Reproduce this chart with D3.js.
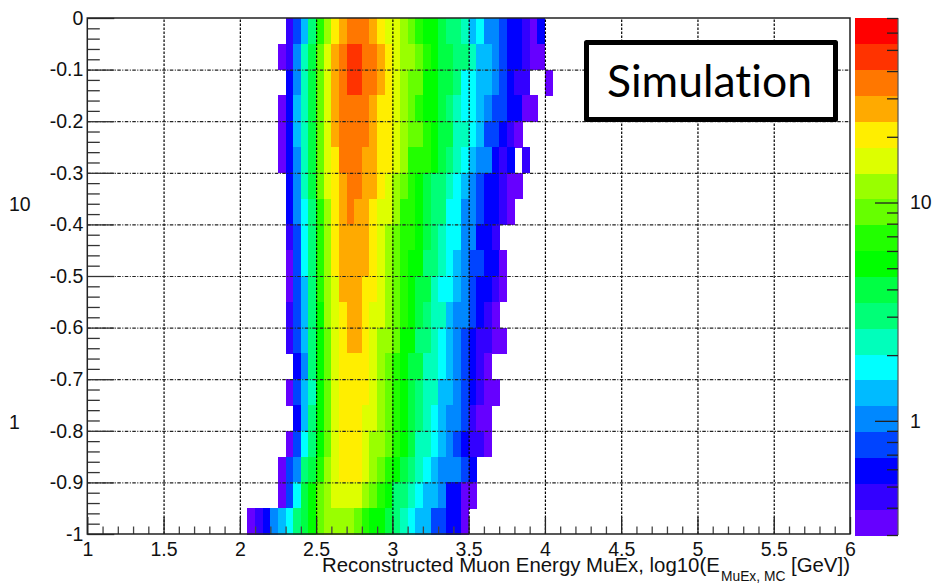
<!DOCTYPE html>
<html>
<head>
<meta charset="utf-8">
<script src="https://cdn.jsdelivr.net/npm/d3@7"></script>
<style>
  body { margin: 0; background: #fff; }
  text { font-family: "Liberation Sans", Arial, sans-serif; fill: #111; }
</style>
</head>
<body>
<svg id="chart" width="932" height="584"></svg>
<script>
// first x bin of each row (log10 E), rows run from y=0 down to y=-1
var rowStart = [2.3,2.25,2.3,2.25,2.25,2.25,2.3,2.3,2.3,2.3,2.3,2.3,2.3,2.35,2.3,2.35,2.3,2.25,2.25,2.05];

// bin contents per row, 0 = empty bin
var rowValues = [
  [.45,.78,1.35,3.1,7,12,21,27,36,36,36,27,21,16,16,12,9.1,7,5.3,5.3,4,3.1,3.1,2.3,1.35,1.78,1.03,1.03,.78,.6,.6,.45,.35,.6],
  [.35,.45,1.03,2.3,4,9.1,16,27,36,47,47,36,36,27,21,16,12,12,9.1,7,5.3,4,4,3.1,3.1,2.3,1.35,1.35,1.03,.78,.6,.6,.45,.35,.35],
  [.6,1.03,2.3,4,9.1,16,27,36,47,47,36,36,27,21,16,12,9.1,9.1,5.3,5.3,4,4,3.1,1.78,1.78,1.35,1.35,1.03,.78,.6,.45,.45,0,0,.35],
  [.35,.6,1.35,2.3,4,9.1,16,27,36,36,36,36,27,21,21,16,12,9.1,7,5.3,5.3,4,3.1,2.3,1.78,1.78,1.35,1.03,.78,.78,.6,.6,.35,.35],
  [.35,.6,1.35,2.3,4,9.1,16,27,36,36,36,36,27,21,21,16,12,9.1,9.1,7,5.3,4,4,2.3,2.3,1.78,1.35,.78,.78,.6,.45,.35],
  [.35,.6,1.03,2.3,4,9.1,16,21,36,36,36,27,27,21,21,16,12,7,7,7,5.3,4,3.1,2.3,1.78,1.35,1.03,1.03,.6,.45,.6,0,.45],
  [.6,1.03,2.3,4,9.1,16,21,27,36,36,27,27,21,16,12,9.1,7,5.3,4,3.1,3.1,2.3,1.78,1.35,1.03,.78,.6,.6,.45,.35,.35],
  [.6,1.03,1.78,3.1,7,12,21,27,36,27,27,21,16,16,12,7,7,5.3,4,3.1,3.1,1.78,1.78,1.03,1.03,.78,.6,.6,.45,.35],
  [.45,.78,1.78,3.1,7,12,21,27,27,27,27,21,16,12,9.1,7,7,5.3,4,3.1,2.3,1.78,1.78,1.03,1.03,.6,.6,.45],
  [.35,.78,1.78,3.1,7,12,21,27,27,27,27,21,16,12,9.1,7,5.3,5.3,3.1,3.1,2.3,1.78,1.35,1.03,.78,.78,.6,.6,.35],
  [.35,.78,1.35,3.1,7,12,16,27,27,27,21,21,16,12,9.1,7,5.3,4,4,2.3,1.78,1.78,1.35,1.03,.78,.6,.6,.45,.35],
  [.45,.78,1.35,3.1,5.3,12,16,21,27,27,21,16,16,12,9.1,7,5.3,4,3.1,2.3,2.3,1.35,1.03,1.03,.78,.6,.45,.35],
  [.45,.78,1.35,3.1,5.3,9.1,16,21,27,27,21,16,12,12,9.1,5.3,5.3,3.1,3.1,2.3,1.78,1.35,1.03,.78,.6,.45,.45,.35,.35],
  [.6,1.03,3.1,5.3,9.1,16,21,21,21,21,16,12,9.1,7,5.3,4,4,2.3,2.3,1.78,1.35,1.03,.78,.6,.45,.35],
  [.35,.78,1.35,2.3,5.3,9.1,16,21,21,21,21,16,12,9.1,7,5.3,4,3.1,2.3,2.3,1.35,1.35,1.03,.78,.6,.45,.35,.35],
  [.6,1.35,3.1,5.3,9.1,16,21,21,21,16,16,12,9.1,7,5.3,4,3.1,2.3,1.78,1.35,1.03,1.03,.78,.45,.35,.35],
  [.35,.78,1.78,3.1,5.3,9.1,16,21,21,21,16,12,12,9.1,7,5.3,4,2.3,2.3,1.78,1.35,1.03,.78,.6,.45,.45,.35],
  [.35,.78,1.03,3.1,4,7,12,16,21,21,21,16,12,9.1,7,5.3,4,3.1,2.3,1.78,1.35,1.03,1.03,1.03,.78,.6],
  [.35,.78,1.78,4,5.3,9.1,12,16,16,16,16,12,9.1,7,5.3,3.1,3.1,2.3,1.78,1.35,1.35,1.03,.6,.6,.35,.35],
  [.35,.45,.6,1.03,1.35,1.78,3.1,4,5.3,9.1,12,12,12,12,9.1,7,5.3,5.3,4,3.1,2.3,1.78,1.35,1.35,.78,.78,.6,.6,.35]
];

// palette, lowest band first
var zColors = ["#6600ff","#3300ff","#0000ff","#0044ff","#0088ff","#00bbff","#00ffff","#00ffbb","#00ff77","#00ff44",
  "#00ff00","#22ff00","#66ff00","#99ff00","#ddff00","#ffee00","#ffaa00","#ff7700","#ff3300","#ff0000"];

var xMajor = [1,1.5,2,2.5,3,3.5,4,4.5,5,5.5,6];
var xMinor = [1.1,1.2,1.3,1.4,1.6,1.7,1.8,1.9,2.1,2.2,2.3,2.4,2.6,2.7,2.8,2.9,3.1,3.2,3.3,3.4,3.6,3.7,3.8,3.9,
  4.1,4.2,4.3,4.4,4.6,4.7,4.8,4.9,5.1,5.2,5.3,5.4,5.6,5.7,5.8,5.9];
var yMajor = [0,-0.1,-0.2,-0.3,-0.4,-0.5,-0.6,-0.7,-0.8,-0.9,-1];
var yMinor = [-.02,-.04,-.06,-.08,-.12,-.14,-.16,-.18,-.22,-.24,-.26,-.28,-.32,-.34,-.36,-.38,-.42,-.44,-.46,-.48,
  -.52,-.54,-.56,-.58,-.62,-.64,-.66,-.68,-.72,-.74,-.76,-.78,-.82,-.84,-.86,-.88,-.92,-.94,-.96,-.98];
var zMajor = [1,10];
var zMinor = [.3,.4,.5,.6,.7,.8,.9,2,3,4,5,6,7,8,9,20,30,40,50,60,70];
var binW = 0.05, binH = 0.05;

var svg = d3.select("#chart");
var x = d3.scaleLinear().domain([1,6]).range([87.3,850]);
var y = d3.scaleLinear().domain([-1,0]).range([534,18]);
var z = d3.scaleLog().domain([.3,70]).range([535,18]);
var zBand = d3.scaleQuantize().domain([Math.log10(.3),Math.log10(70)]).range(zColors);
var bandPos = d3.scaleBand().domain(d3.range(zColors.length)).range([535,18]);

// plain labels, keeps the ascii minus
function plain(d){ return String(d); }

// heat map cells
var cells = [];
rowValues.forEach(function(row,r){
  row.forEach(function(v,c){
    if (v > 0) cells.push({x0: rowStart[r] + c*binW, y1: -r*binH, v: v});
  });
});
svg.append("g").attr("shape-rendering","crispEdges")
  .selectAll("rect").data(cells).enter().append("rect")
  .attr("x",function(d){return x(d.x0);})
  .attr("y",function(d){return y(d.y1);})
  .attr("width",function(d){return x(d.x0+binW)-x(d.x0)+.5;})
  .attr("height",function(d){return y(d.y1-binH)-y(d.y1)+.5;})
  .style("fill",function(d){return zBand(Math.log10(d.v));});

// grid over the cells
var gx = svg.append("g").attr("transform","translate(0,534)")
  .call(d3.axisBottom(x).tickValues(xMajor.slice(1,-1)).tickSize(-516).tickFormat(""));
var gy = svg.append("g").attr("transform","translate(87.3,0)")
  .call(d3.axisLeft(y).tickValues(yMajor.slice(1,-1)).tickSize(-762.7).tickFormat(""));
gx.select(".domain").remove();
gy.select(".domain").remove();
gx.selectAll("line").attr("stroke","#000").attr("stroke-width",1.2).attr("stroke-dasharray","2.5 1.5");
gy.selectAll("line").attr("stroke","#222").attr("stroke-width",1.2).attr("stroke-dasharray","3.5 1.5 1 1.5");

// ticks and labels
function ticks(sel,stroke){
  sel.select(".domain").remove();
  sel.selectAll("line").attr("stroke",stroke).attr("stroke-width",1.3);
  sel.selectAll("text").style("font-size","19.5px");
}
svg.append("g").attr("transform","translate(0,534)")
  .call(d3.axisBottom(x).tickValues(xMajor).tickSize(-17).tickPadding(8).tickFormat(plain))
  .call(ticks,"#222");
svg.append("g").attr("transform","translate(0,534)")
  .call(d3.axisBottom(x).tickValues(xMinor).tickSize(-7.5).tickFormat(""))
  .call(ticks,"#444");
svg.append("g").attr("transform","translate(87.3,0)")
  .call(d3.axisLeft(y).tickValues(yMajor).tickSize(-27).tickPadding(4).tickFormat(plain))
  .call(ticks,"#333");
svg.append("g").attr("transform","translate(87.3,0)")
  .call(d3.axisLeft(y).tickValues(yMinor).tickSize(-12.5).tickFormat(""))
  .call(ticks,"#333");

// frame
svg.append("path").attr("d","M87.3,18H850V534H87.3Z").attr("fill","none").attr("stroke","#222").attr("stroke-width",1.5);

// palette
svg.append("g").attr("shape-rendering","crispEdges")
  .selectAll("rect").data(zColors).enter().append("rect")
  .attr("x",855).attr("width",43)
  .attr("y",function(d,i){return bandPos(i);})
  .attr("height",bandPos.bandwidth()+.5)
  .style("fill",function(d){return d;});
svg.append("line").attr("x1",898).attr("x2",898).attr("y1",18).attr("y2",535).attr("stroke","#555").attr("stroke-width",1.2);
svg.append("g").attr("transform","translate(898,0)")
  .call(d3.axisRight(z).tickValues(zMajor).tickSize(-23).tickPadding(12).tickFormat(plain))
  .call(ticks,"#222");
svg.append("g").attr("transform","translate(898,0)")
  .call(d3.axisRight(z).tickValues(zMinor).tickSize(-11).tickFormat(""))
  .call(ticks,"#222");

// stray decade labels on the left
svg.append("g").selectAll("text").data(zMajor).enter().append("text")
  .attr("x",9)
  .attr("y",function(d){return z(d)+8;})
  .style("font-size","19.5px")
  .text(function(d){return d;});

// x title
var title = svg.append("text").attr("x",322).attr("y",572).style("font-size","20.4px");
title.append("tspan").text("Reconstructed Muon Energy MuEx, log10(E");
title.append("tspan").attr("x",721).attr("y",581).style("font-size","13.8px").text("MuEx, MC");
title.append("tspan").attr("x",791).attr("y",572).text("[GeV])");

// simulation box
svg.append("rect").attr("x",586.5).attr("y",42.5).attr("width",249).attr("height",77)
  .attr("fill","#fff").attr("stroke","#000").attr("stroke-width",5).attr("stroke-linejoin","round");
svg.append("text").attr("x",607).attr("y",97).style("font-family","Lato, sans-serif").style("font-size","44.5px")
  .style("font-variant-ligatures","none").style("fill","#000").text("Simulation");
</script>
</body>
</html>
